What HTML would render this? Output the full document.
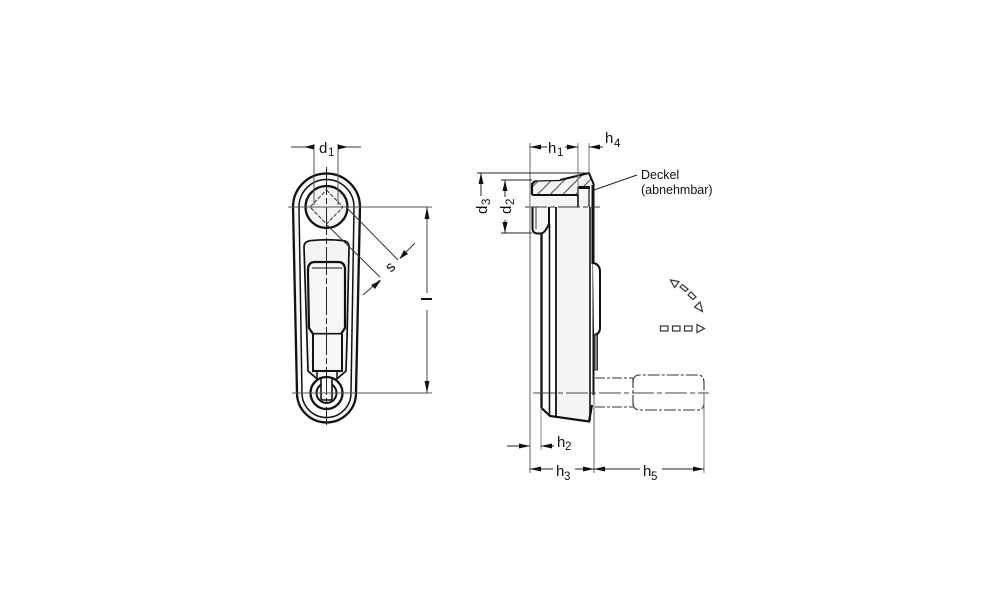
<!DOCTYPE html>
<html><head><meta charset="utf-8"><style>
html,body{margin:0;padding:0;background:#fff}
svg{display:block;filter:blur(0.35px)}
text{font-family:"Liberation Sans",sans-serif;fill:#111}
.t{font-size:15px}.s{font-size:11.5px}.l{font-size:12.5px}
</style></head><body>
<svg width="1000" height="611" viewBox="0 0 1000 611" xmlns="http://www.w3.org/2000/svg">
<defs>
<pattern id="h" width="9" height="9" patternUnits="userSpaceOnUse" patternTransform="rotate(45)"><rect width="9" height="9" fill="#f4f4f4"/><line x1="4.500" y1="0" x2="4.500" y2="9" stroke="#333" stroke-width="0.900"/></pattern>
</defs>

<!-- LEFT VIEW -->
<g fill="none" stroke="#111">
<path d="M293 207A33.500 33.500 0 0 1 360 207L356 393A29 29 0 0 1 297 393Z" fill="#f6f6f6" stroke-width="2.300"/>
<path d="M299 207A27.500 27.500 0 0 1 354 207L351 393A24 24 0 0 1 302 393Z" fill="#fff" stroke-width="1.500"/>
<path d="M304 247Q304 241 312 240.500Q327 239 342 240.500Q349 241 349 247L347 340L346 371L338 378H316L308 371L307 340Z" fill="#f4f4f4" stroke-width="1.700"/>
<circle cx="326.500" cy="207" r="21" fill="#f4f4f4" stroke-width="2.300"/>
<path d="M308 275V270Q308 262 315 262H338Q345 262 345 270V328L341 334H313L309 328Z" fill="#f6f6f6" stroke-width="2.200"/>
<path d="M313 334V371H342V334" fill="#f6f6f6" stroke-width="2"/>
<path d="M312 268H342" stroke-width="1"/>
<path d="M313 334H341" stroke-width="1"/>
<path d="M317 372V379H337V372" fill="#f4f4f4" stroke-width="1.500"/>
<circle cx="326.500" cy="393" r="16" fill="#fff" stroke-width="2.300"/>
<circle cx="326.500" cy="393" r="10" fill="#f4f4f4" stroke-width="2"/>
<path d="M321 379V398Q321 400 323 400H330Q332 400 332 398V379" fill="#fff" stroke-width="1.600"/>
<path d="M326.500 190L343 207L326.500 224L310 207Z" fill="none" stroke="#333" stroke-width="1" stroke-dasharray="4 1.500"/>
</g>
<g stroke="#333" fill="none" stroke-width="1">
<line x1="326.500" y1="167" x2="326.500" y2="425" stroke-dasharray="28 3 6 3" stroke="#222"/>
<line x1="288" y1="207" x2="432" y2="207" stroke="#555" stroke-width="1.100"/>
<line x1="292" y1="393" x2="432" y2="393" stroke="#555" stroke-width="1.100"/>
<line x1="427" y1="207" x2="427" y2="293" stroke="#444"/>
<line x1="427" y1="310" x2="427" y2="393" stroke="#444"/>
<line x1="314" y1="144" x2="314" y2="205" stroke="#555"/>
<line x1="338" y1="144" x2="338" y2="205" stroke="#555"/>
<line x1="291" y1="147" x2="314" y2="147"/>
<line x1="338" y1="147" x2="361" y2="147"/>
<line x1="347" y1="208" x2="398" y2="260"/>
<line x1="327" y1="225" x2="380" y2="277"/>
<line x1="415" y1="243" x2="400" y2="258"/>
<line x1="380" y1="280" x2="363" y2="295"/>
</g>
<g fill="#111">
<path d="M304 147L314 144.500V149.500Z" transform="translate(0,0)"/>
<path d="M348 147L338 144.500V149.500Z"/>
<path d="M427 207L424.500 219H429.500Z"/>
<path d="M427 393L424.500 381H429.500Z"/>
<path d="M399.500 259L404 250L408 254Z"/>
<path d="M381 280L371 285L375 289Z"/>
</g>
<text class="t" x="319" y="153">d</text><text class="s" x="328" y="156">1</text>
<text class="t" transform="translate(391,273) rotate(-45)" x="0" y="0">s</text>
<rect x="421" y="298" width="11" height="2" fill="#111"/>

<!-- RIGHT VIEW -->
<g fill="none" stroke="#111">
<path d="M556 207H590V421L556 417Z" fill="#f5f5f5" stroke="none"/>
<path d="M532 195H578V207H532Z" fill="#f5f5f5" stroke="none"/>
<path d="M578 190H590V207H578Z" fill="#f5f5f5" stroke="none"/>
<path d="M532 207H549V224Q546 233 541 233H536Q532 233 532 229Z" fill="#f5f5f5" stroke="none"/>
<path d="M532 184L535 181L560 180L589 173L594 185H589V187H578V195H532Z" fill="url(#h)" stroke="none"/>
<path d="M532 195V184L535 181" stroke-width="2.200"/>
<path d="M535 181L560 180.500" stroke-width="1.300"/>
<path d="M560 180L589 173L594 185" stroke-width="2"/>
<path d="M532 195H578" stroke-width="2"/>
<path d="M578 187V207" stroke-width="1.600"/>
<path d="M578 187.500H590" stroke-width="3"/>
<path d="M589 187V207" stroke-width="1.200"/>
<path d="M593 185V264" stroke-width="3"/>
<path d="M532.500 207V229Q533 233 537 233.500H541Q545 233 549 224V207" stroke-width="2"/>
<path d="M536 207V229" stroke-width="0.800"/>
<line x1="541.500" y1="234" x2="541.500" y2="408" stroke-width="2.300"/>
<line x1="549.500" y1="224" x2="549.500" y2="416" stroke-width="1.600"/>
<line x1="556" y1="207" x2="556" y2="417" stroke-width="1.800"/>
<line x1="590" y1="207" x2="590" y2="421" stroke-width="1.600"/>
<line x1="593.500" y1="264" x2="593.500" y2="395" stroke-width="2"/>
<path d="M541.500 408L550 416L589 421.500L592 405" stroke-width="2.200"/>
<path d="M593 263Q600 264 600 272V328Q600 334 594 335" fill="#fff" stroke-width="2"/>
<rect x="594.500" y="335" width="3" height="35" fill="#888" stroke="#333" stroke-width="1"/>
<path d="M595 378H633M595 407H633M633 378V407" stroke="#333" stroke-width="1.100" stroke-dasharray="10 2 3 2"/>
<path d="M633 382Q633 375 640 375H698Q704 375 704 383V402Q704 410 698 410H640Q633 410 633 403" stroke="#333" stroke-width="1.100" stroke-dasharray="12 2 3 2"/>
</g>
<g stroke="#555" fill="none" stroke-width="1">
<line x1="525" y1="207" x2="600" y2="207" stroke-dasharray="22 3 5 3" stroke="#333"/>
<line x1="533" y1="393" x2="709" y2="393" stroke-dasharray="22 3 5 3" stroke="#444"/>
<line x1="530" y1="143" x2="530" y2="473" stroke="#888" stroke-width="1.300"/>
<line x1="578" y1="143" x2="578" y2="195" stroke="#777"/>
<line x1="589" y1="143" x2="589" y2="173" stroke="#777"/>
<line x1="541" y1="408" x2="541" y2="450" stroke="#888"/>
<line x1="594" y1="395" x2="594" y2="473" stroke="#888" stroke-width="1.300"/>
<line x1="704" y1="392" x2="704" y2="473" stroke="#777"/>
<line x1="477" y1="173" x2="589" y2="173" stroke="#222"/>
<line x1="501" y1="180" x2="532" y2="180" stroke="#222"/>
<line x1="501" y1="233" x2="532" y2="233" stroke="#222"/>
<line x1="530" y1="147" x2="547" y2="147" stroke="#222"/>
<line x1="565" y1="147" x2="578" y2="147" stroke="#222"/>
<line x1="589" y1="147" x2="603" y2="147" stroke="#222"/>
<line x1="481" y1="173" x2="481" y2="196" stroke="#222"/>
<line x1="505" y1="180" x2="505" y2="197" stroke="#222"/>
<line x1="505" y1="220" x2="505" y2="233" stroke="#222"/>
<line x1="507" y1="446" x2="530" y2="446" stroke="#222"/>
<line x1="541" y1="446" x2="554" y2="446" stroke="#222"/>
<line x1="530" y1="469" x2="553" y2="469" stroke="#222"/>
<line x1="575" y1="469" x2="594" y2="469" stroke="#222"/>
<line x1="594" y1="469" x2="640" y2="469" stroke="#222"/>
<line x1="662" y1="469" x2="704" y2="469" stroke="#222"/>
<line x1="594" y1="190" x2="637" y2="175" stroke="#222"/>
</g>
<g fill="#111">
<path d="M530 147L541 144.500V149.500Z"/>
<path d="M578 147L567 144.500V149.500Z"/>
<path d="M589 147L600 144.500V149.500Z"/>
<path d="M481 173L478.500 184H483.500Z"/>
<path d="M505 180L502.500 191H507.500Z"/>
<path d="M505 233L502.500 222H507.500Z"/>
<path d="M530 446L519 443.500V448.500Z"/>
<path d="M541 446L552 443.500V448.500Z"/>
<path d="M530 469L541 466.500V471.500Z"/>
<path d="M594 469L583 466.500V471.500Z"/>
<path d="M594 469L605 466.500V471.500Z"/>
<path d="M704 469L693 466.500V471.500Z"/>
</g>
<text class="t" x="548" y="153">h</text><text class="s" x="557" y="156">1</text>
<text class="t" x="605" y="143">h</text><text class="s" x="614" y="147">4</text>
<text class="t" x="557" y="447">h</text><text class="s" x="565" y="450">2</text>
<text class="t" x="556" y="476">h</text><text class="s" x="564" y="480">3</text>
<text class="t" x="643" y="476">h</text><text class="s" x="651" y="480">5</text>
<text class="t" transform="translate(487,214) rotate(-90)">d</text><text class="s" transform="translate(490,205) rotate(-90)">3</text>
<text class="t" transform="translate(511,214) rotate(-90)">d</text><text class="s" transform="translate(514,205) rotate(-90)">2</text>
<text class="l" x="641" y="179">Deckel</text>
<text class="l" x="641" y="194">(abnehmbar)</text>

<!-- motion symbols -->
<g fill="#fff" stroke="#333" stroke-width="1.200">
<path d="M670.500 280L679 281.500L674.500 287.500Z"/>
<path d="M680 287L682.500 284.500L688 289L685.500 291.500Z"/>
<path d="M688 295L691 292L696 297L693 299.500Z"/>
<path d="M702.500 311.500L694.500 307L700 302Z"/>
<rect x="660.500" y="326" width="7.500" height="5"/>
<rect x="672.500" y="326" width="7.500" height="5"/>
<rect x="684.500" y="326" width="7.500" height="5"/>
<path d="M697 324.500L704.500 328.500L697 332.500Z"/>
</g>
</svg>
</body></html>
